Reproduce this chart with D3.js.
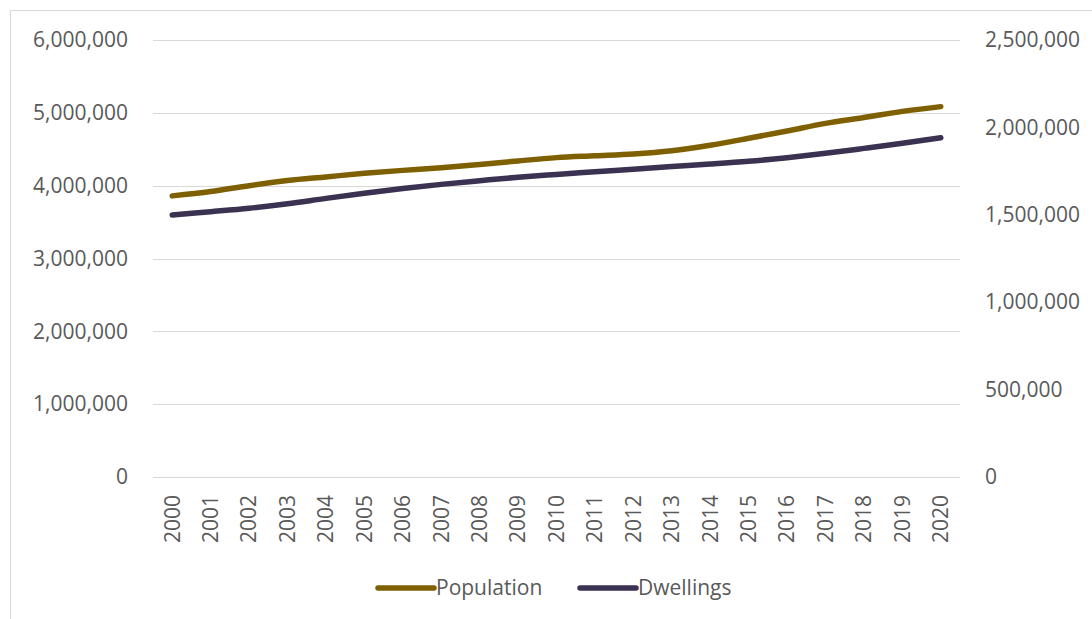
<!DOCTYPE html>
<html><head><meta charset="utf-8">
<script src="https://cdn.jsdelivr.net/npm/d3@7"></script>
<style>
html,body{margin:0;padding:0;background:#fff;}
svg{display:block;font-family:"Open Sans","Noto Sans",sans-serif;}
</style></head>
<body>
<svg id="chart" width="1092" height="619"></svg>
<script>
const years = ["2000","2001","2002","2003","2004","2005","2006","2007","2008","2009","2010","2011","2012","2013","2014","2015","2016","2017","2018","2019","2020"];
const population = [3860000,3920000,4000000,4070000,4120000,4170000,4210000,4245000,4290000,4340000,4385000,4410000,4435000,4480000,4555000,4650000,4750000,4855000,4935000,5020000,5085000];
const dwellings = [1499000,1518000,1538000,1563000,1594000,1623000,1650000,1674000,1695000,1715000,1731000,1746000,1761000,1776000,1790000,1806000,1827000,1852000,1880000,1909000,1941000];
const leftTicks = [0,1000000,2000000,3000000,4000000,5000000,6000000];
const rightTicks = [0,500000,1000000,1500000,2000000,2500000];
const seriesNames = ["Population","Dwellings"];
const colors = ["#7f6000","#3b3150"];

(function(){
const svg = d3.select("#chart");
const mLeft = 153, mRight = 960, mTop = 40, mBottom = 477;

svg.append("rect").attr("x",10.5).attr("y",10.5).attr("width",1100).attr("height",700)
  .attr("fill","none").attr("stroke","#d9d9d9").attr("stroke-width",1);

const x = d3.scaleBand().domain(years).range([mLeft,mRight]);
const yL = d3.scaleLinear().domain([0,6000000]).range([mBottom,mTop]);
const yR = d3.scaleLinear().domain([0,2500000]).range([mBottom,mTop]);
const fmt = d3.format(",");

// gridlines
svg.append("g").selectAll("line").data(leftTicks).join("line")
  .attr("x1",mLeft).attr("x2",mRight)
  .attr("y1",d=>Math.round(yL(d))+0.5).attr("y2",d=>Math.round(yL(d))+0.5)
  .attr("stroke","#d9d9d9").attr("stroke-width",1.2);

// left axis
const axL = svg.append("g").attr("transform",`translate(${mLeft},0)`)
  .call(d3.axisLeft(yL).tickValues(leftTicks).tickFormat(fmt).tickSize(0).tickPadding(25));
axL.select(".domain").remove();
axL.selectAll("text").attr("fill","#595959").style("font-size","21px")
  .style("font-family","'Open Sans','Noto Sans',sans-serif");

// right axis
const axR = svg.append("g").attr("transform",`translate(${mRight},0)`)
  .call(d3.axisRight(yR).tickValues(rightTicks).tickFormat(fmt).tickSize(0).tickPadding(25));
axR.select(".domain").remove();
axR.selectAll("text").attr("fill","#595959").style("font-size","21px")
  .style("font-family","'Open Sans','Noto Sans',sans-serif");

// x axis
const axX = svg.append("g").attr("transform",`translate(0,${mBottom})`)
  .call(d3.axisBottom(x).tickSize(0).tickPadding(0));
axX.select(".domain").remove();
axX.selectAll("text")
  .attr("fill","#595959").style("font-size","21px")
  .style("font-family","'Open Sans','Noto Sans',sans-serif")
  .attr("text-anchor","end")
  .attr("dy","0.35em")
  .attr("transform","translate(0,18) rotate(-90)")
  .attr("x",0).attr("y",0);

// lines
const cx = d => x(d) + x.bandwidth()/2;
const lineL = d3.line().x((d,i)=>cx(years[i])).y(d=>yL(d)).curve(d3.curveCatmullRom.alpha(0.5));
const lineR = d3.line().x((d,i)=>cx(years[i])).y(d=>yR(d)).curve(d3.curveCatmullRom.alpha(0.5));

svg.append("path").datum(population).attr("d",lineL).attr("fill","none")
  .attr("stroke",colors[0]).attr("stroke-width",5.5).attr("stroke-linecap","round").attr("stroke-linejoin","round");
svg.append("path").datum(dwellings).attr("d",lineR).attr("fill","none")
  .attr("stroke",colors[1]).attr("stroke-width",5.5).attr("stroke-linecap","round").attr("stroke-linejoin","round");

// legend
const legend = [{name:seriesNames[0],c:colors[0],x:378},{name:seriesNames[1],c:colors[1],x:580}];
const lg = svg.append("g");
legend.forEach(l=>{
  lg.append("line").attr("x1",l.x).attr("x2",l.x+56).attr("y1",588).attr("y2",588)
    .attr("stroke",l.c).attr("stroke-width",5.5).attr("stroke-linecap","round");
  lg.append("text").attr("x",l.x+58).attr("y",588).attr("dy","0.35em")
    .attr("fill","#595959").style("font-size","21px").text(l.name);
});
})();
</script>
</body></html>
